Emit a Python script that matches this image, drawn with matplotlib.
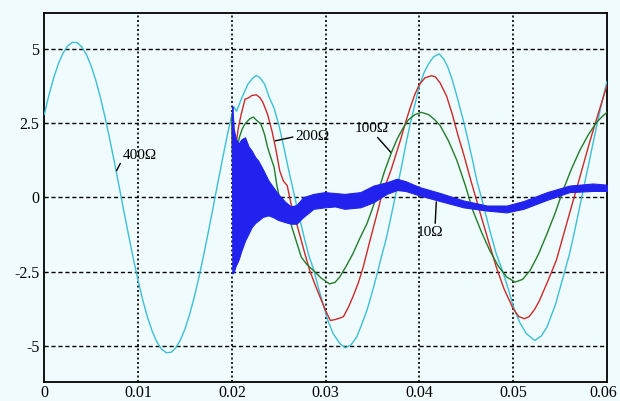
import numpy as np
import matplotlib.pyplot as plt
from matplotlib.transforms import ScaledTranslation

# fault current for different fault resistances, t in ms, i in kA
t_400 = [0, 0.5, 1, 1.5, 2, 2.5, 3, 3.5, 4, 4.5, 5, 5.5, 6, 6.5, 7, 7.5, 8, 8.5, 9, 9.5,
         10, 10.5, 11, 11.5, 12, 12.5, 13, 13.5, 14, 14.5, 15, 15.5, 16, 16.5, 17, 17.5,
         18, 18.5, 19, 19.5, 20,
         20.2, 20.5, 21.0, 21.7, 22.2, 22.6, 23.0, 23.5, 24.0, 24.5, 25.0, 25.5, 26.0,
         26.5, 27.0, 27.6, 28.2, 28.7, 29.2, 29.7, 30.2, 30.8, 31.5, 32.1, 32.7, 33.3,
         33.8, 34.4, 34.9, 35.4, 35.9, 36.5, 37.0, 37.6, 38.1, 38.5, 39.0, 39.5, 40.0,
         40.5, 41.0, 41.5, 42.1, 42.6, 43.0, 43.5, 44.0, 44.75, 45.2, 45.7, 46.1, 46.6,
         47.1, 47.5, 48.2, 48.9, 49.5, 50.0, 50.7, 51.4, 52.3, 53.0, 53.6, 54.5, 55.3,
         56.0, 56.5, 57.0, 57.5, 58.0, 58.5, 59.0, 59.5, 60.0]
i_400 = [2.79, 3.45, 4.02, 4.49, 4.85, 5.09, 5.21, 5.20, 5.06, 4.79, 4.41, 3.92, 3.33, 2.66,
         1.92, 1.14, 0.33, -0.49, -1.29, -2.07, -2.79, -3.45, -4.02, -4.49, -4.85, -5.09,
         -5.21, -5.20, -5.06, -4.79, -4.41, -3.92, -3.33, -2.66, -1.92, -1.14, -0.33, 0.49,
         1.29, 2.07, 2.79,
         3.05, 2.9, 3.3, 3.8, 4.0, 4.1, 4.02, 3.8, 3.35, 3.0, 2.45, 1.75, 1.0,
         0.3, -0.4, -1.2, -1.95, -2.4, -3.0, -3.55, -4.1, -4.57, -4.9, -5.05, -4.95, -4.69,
         -4.3, -3.79, -3.25, -2.67, -2.05, -1.33, -0.6, 0.3, 1.05, 1.7, 2.45, 3.1, 3.75,
         4.2, 4.5, 4.72, 4.82, 4.65, 4.4, 3.95, 3.4, 2.5, 1.9, 1.2, 0.6, 0.0,
         -0.6, -1.1, -1.9, -2.5, -3.1, -3.65, -4.2, -4.57, -4.8, -4.65, -4.35, -3.6, -2.7,
         -1.9, -1.2, -0.45, 0.3, 1.05, 1.8, 2.55, 3.25, 3.9]

t_200 = [20.0, 20.1, 20.2, 20.4, 20.7, 21.0, 21.4, 21.8, 22.1, 22.6, 23.0, 23.3, 23.8, 24.3,
         24.7, 25.1, 25.5, 25.9, 26.3, 26.8, 27.3, 27.8, 28.3, 28.9, 29.4, 30.0, 30.5, 31.0,
         31.5, 31.9, 32.4, 32.9, 33.5, 34.0, 34.6, 35.1, 35.6, 36.1, 36.6, 37.0, 37.5, 38.0,
         38.5, 39.0, 39.5, 40.0, 40.6, 41.3, 41.7, 42.2, 42.9, 43.5, 44.1, 44.7, 45.5, 46.1,
         46.4, 47.3, 48.2, 49.0, 50.0, 50.6, 51.2, 51.7, 52.3, 52.8, 53.7, 54.6, 55.5, 56.4,
         57.3, 58.2, 59.1, 60.0]
i_200 = [2.79, 1.1, 1.6, 1.7, 2.36, 2.8, 3.3, 3.35, 3.42, 3.45, 3.35, 3.2, 2.8, 2.2,
         1.6, 0.9, 0.55, 0.4, -0.2, -0.75, -1.33, -1.9, -2.45, -2.95, -3.34, -3.8, -4.13, -4.1,
         -4.05, -4.0, -3.7, -3.34, -2.85, -2.34, -1.6, -1.0, -0.4, 0.23, 0.6, 0.95, 1.45, 1.95,
         2.5, 3.0, 3.45, 3.8, 4.02, 4.09, 4.05, 3.85, 3.4, 2.8, 2.1, 1.47, 0.55, -0.1,
         -0.44, -1.4, -2.34, -3.05, -3.74, -4.0, -4.07, -4.0, -3.75, -3.46, -2.8, -2.11, -1.1, -0.1,
         0.9, 1.91, 2.85, 3.76]

t_100 = [20.0, 20.1, 20.2, 20.4, 20.8, 21.1, 21.4, 21.9, 22.3, 22.6, 23.1, 23.5, 23.8, 24.2,
         24.5, 24.8, 25.1, 25.6, 26.0, 26.4, 26.9, 27.4, 28.0, 28.7, 29.5, 30.4, 31.0, 31.5,
         32.2, 32.9, 33.6, 34.4, 34.9, 35.4, 35.9, 36.3, 37.0, 37.6, 38.2, 38.8, 39.5, 40.2,
         41.0, 41.6, 42.2, 43.1, 44.0, 44.9, 45.7, 46.6, 47.5, 48.4, 49.3, 50.2, 51.0, 51.8,
         52.7, 53.6, 54.5, 55.3, 56.2, 57.1, 58.0, 58.9, 59.5, 60.0]
i_100 = [2.79, 0.4, 0.9, 1.4, 2.02, 2.3, 2.47, 2.64, 2.7, 2.6, 2.47, 2.1, 1.69, 1.3,
         1.02, 0.4, -0.05, -0.35, -0.45, -1.0, -1.5, -2.0, -2.25, -2.45, -2.7, -2.9, -2.85, -2.67,
         -2.3, -1.89, -1.4, -0.88, -0.45, 0.01, 0.5, 0.9, 1.5, 1.95, 2.3, 2.6, 2.78, 2.86,
         2.78, 2.62, 2.42, 1.9, 1.24, 0.4, -0.44, -1.15, -1.78, -2.3, -2.67, -2.84, -2.75, -2.45,
         -1.9, -1.22, -0.5, 0.23, 0.95, 1.58, 2.1, 2.53, 2.72, 2.86]

# 10 ohm trace is a dense noisy band: upper and lower envelope
t_10 = [20.0, 20.05, 20.2, 20.4, 20.7, 21.0, 21.4, 21.8, 22.1, 22.5, 22.8, 23.3, 23.9, 24.4,
        24.9, 25.7, 26.3, 26.9, 27.6, 28.7, 29.9, 31.0, 32.0, 33.7, 35.1, 36.5, 37.6, 38.5,
        40.0, 42.2, 44.7, 47.2, 49.3, 51.1, 53.6, 56.0, 58.5, 60.0]
i_10_hi = [2.8, 3.05, 2.3, 2.0, 1.8, 1.95, 2.02, 1.7, 1.58, 1.35, 1.24, 0.95, 0.57, 0.35,
           0.13, -0.15, -0.3, -0.25, 0.01, 0.12, 0.18, 0.15, 0.12, 0.18, 0.4, 0.51, 0.63, 0.55,
           0.35, 0.15, -0.1, -0.27, -0.27, -0.12, 0.18, 0.4, 0.47, 0.43]
i_10_lo = [2.0, -2.55, -2.5, -2.3, -2.1, -1.8, -1.45, -1.2, -1.0, -0.85, -0.78, -0.65, -0.6, -0.66,
           -0.75, -0.83, -0.88, -0.88, -0.66, -0.38, -0.33, -0.3, -0.38, -0.33, -0.16, 0.12, 0.25, 0.22,
           0.07, -0.12, -0.33, -0.44, -0.5, -0.38, -0.08, 0.18, 0.22, 0.22]

x_ticks = [0, 0.01, 0.02, 0.03, 0.04, 0.05, 0.06]
x_labels = ['0', '0.01', '0.02', '0.03', '0.04', '0.05', '0.06']
y_ticks = [5, 2.5, 0, -2.5, -5]
y_labels = ['5', '2.5', '0', '-2.5', '-5']

bg = '#effbfc'
plt.rcParams['font.family'] = ['Liberation Serif', 'DejaVu Serif']

fig = plt.figure(figsize=(6.2, 4.01), dpi=100, facecolor=bg)
ax = fig.add_axes([0.0715, 0.047, 0.9075, 0.921])
ax.set_facecolor(bg)

ms = lambda t: np.array(t) / 1000.0

ax.plot(ms(t_400), i_400, color='#3dbfd8', lw=1.0, zorder=3)
ax.plot(ms(t_200), i_200, color='#cc2a2a', lw=1.0, zorder=4)
ax.plot(ms(t_100), i_100, color='#237d2a', lw=1.0, zorder=5)
ax.fill_between(ms(t_10), i_10_lo, i_10_hi, color='#2222ee', lw=0.8,
                edgecolor='#2222ee', zorder=6)

ax.set_xlim(0, 0.06)
ax.set_ylim(-6.2, 6.2)
ax.set_xticks(x_ticks)
ax.set_xticklabels(x_labels)
ax.set_yticks(y_ticks)
ax.set_yticklabels(y_labels)
ax.tick_params(length=0, labelsize=11.5, colors='black')
ax.tick_params(axis='x', pad=2.0)
ax.tick_params(axis='y', pad=3.5)

# last x label sits right at the figure edge, nudge it in a little
last = ax.get_xticklabels()[-1]
last.set_transform(last.get_transform() + ScaledTranslation(-4 / 100, 0, fig.dpi_scale_trans))

for y in y_ticks:
    ax.axhline(y, color='black', lw=1.0, ls=(0, (3, 2)), zorder=1)
for x in x_ticks[1:-1]:
    ax.axvline(x, color='black', lw=1.2, ls=(0, (1.2, 1.5)), zorder=1)

for sp in ax.spines.values():
    sp.set_linewidth(1.3)
    sp.set_color('black')

line = dict(arrowstyle='-', color='black', lw=1.0, shrinkA=0, shrinkB=0)
ax.annotate('400Ω', xy=(0.0077, 0.9), xytext=(0.0084, 1.41), fontsize=11,
            ha='left', va='center', arrowprops=dict(line, relpos=(0, 0.3)))
ax.annotate('200Ω', xy=(0.0246, 1.9), xytext=(0.0268, 2.05), fontsize=11,
            ha='left', va='center', arrowprops=dict(line, relpos=(0, 0.5)))
ax.annotate('100Ω', xy=(0.0370, 1.5), xytext=(0.0349, 2.33), fontsize=11,
            ha='center', va='center', arrowprops=dict(line, relpos=(0.6, 0)))
ax.annotate('10Ω', xy=(0.0418, -0.15), xytext=(0.0411, -1.18), fontsize=11,
            ha='center', va='center', arrowprops=dict(line, relpos=(0.7, 1)))

fig.savefig('out.png', dpi=100, facecolor=bg)
